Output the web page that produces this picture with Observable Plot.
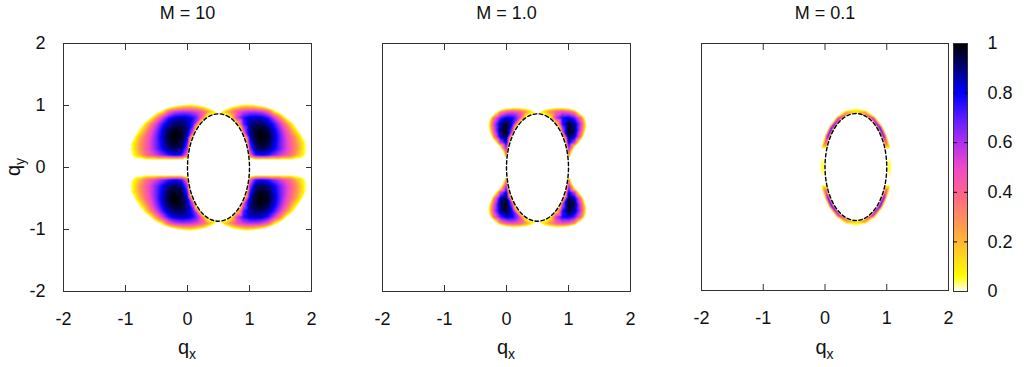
<!DOCTYPE html>
<html>
<head>
<meta charset="utf-8">
<script src="https://cdn.jsdelivr.net/npm/d3@7"></script>
<script src="https://cdn.jsdelivr.net/npm/@observablehq/plot@0.6"></script>
<style>
  body { margin: 0; background: #fff; }
  #fig { position: relative; width: 1027px; height: 367px; overflow: hidden; }
  #fig svg { position: absolute; top: 0; max-width: none; overflow: visible; }
</style>
</head>
<body>
<div id="fig"></div>
<script>
// Sampled gap magnitude on the quadrant qx >= 0.5, qy >= 0;
// the pattern is mirrored about qx = 0.5 and qy = 0.
const qxCols = [0.5, 0.6, 0.7, 0.8, 0.9, 1.0, 1.1, 1.2, 1.3, 1.4, 1.5, 1.6, 1.7, 1.8, 1.9];
const qyRows = [0.2, 0.3, 0.4, 0.5, 0.6, 0.7, 0.8, 0.9];

// M = 10: interior samples (0 = outside the lobe)
const m10Rows = [
  [0, 0, 0, 0, 0, 0.4, 0.75, 0.8, 0.75, 0.65, 0.55, 0.45, 0.32, 0.15, 0],
  [0, 0, 0, 0, 0, 0.6, 0.9, 0.93, 0.9, 0.8, 0.67, 0.53, 0.38, 0.22, 0.03],
  [0, 0, 0, 0, 0, 0.72, 0.95, 0.98, 0.95, 0.83, 0.68, 0.53, 0.37, 0.2, 0],
  [0, 0, 0, 0, 0, 0.82, 0.97, 1, 0.97, 0.85, 0.68, 0.5, 0.33, 0.14, 0],
  [0, 0, 0, 0, 0.5, 0.88, 0.97, 0.98, 0.94, 0.82, 0.64, 0.44, 0.2, 0, 0],
  [0, 0, 0, 0.08, 0.7, 0.87, 0.92, 0.92, 0.87, 0.74, 0.55, 0.3, 0.05, 0, 0],
  [0, 0, 0.08, 0.55, 0.75, 0.83, 0.85, 0.83, 0.75, 0.56, 0.3, 0, 0, 0, 0],
  [0, 0.15, 0.32, 0.48, 0.56, 0.6, 0.6, 0.56, 0.44, 0.1, 0, 0, 0, 0, 0]
];
// M = 10: outer edge of the upper-right lobe (gap falls to 0)
const m10EdgeQx = [0.5, 0.6, 0.72, 0.85, 0.94, 1.05, 1.15, 1.26, 1.4, 1.5, 1.58, 1.7, 1.795, 1.87, 1.92, 1.935, 1.92, 1.88, 1.82, 1.7, 1.5, 1.3, 1.1, 0.996];
const m10EdgeQy = [0.87, 0.935, 0.985, 1.01, 1.02, 1.015, 1.0, 0.98, 0.93, 0.88, 0.82, 0.72, 0.6, 0.48, 0.38, 0.3, 0.22, 0.17, 0.14, 0.128, 0.125, 0.125, 0.125, 0.125];

// M = 1.0
const m1Rows = [
  [0, 0, 0, 0, 0, 0.35, 0, 0, 0, 0, 0, 0, 0, 0, 0],
  [0, 0, 0, 0, 0, 0.65, 0, 0, 0, 0, 0, 0, 0, 0, 0],
  [0, 0, 0, 0, 0, 0.85, 0.55, 0, 0, 0, 0, 0, 0, 0, 0],
  [0, 0, 0, 0, 0, 0.97, 0.85, 0.35, 0, 0, 0, 0, 0, 0, 0],
  [0, 0, 0, 0, 0.55, 1, 0.92, 0.5, 0, 0, 0, 0, 0, 0, 0],
  [0, 0, 0, 0.05, 0.75, 0.97, 0.88, 0.55, 0, 0, 0, 0, 0, 0, 0],
  [0, 0, 0.05, 0.58, 0.78, 0.82, 0.7, 0.4, 0, 0, 0, 0, 0, 0, 0],
  [0, 0.12, 0.3, 0.44, 0.5, 0.45, 0.28, 0, 0, 0, 0, 0, 0, 0, 0]
];
const m1EdgeQx = [0.5, 0.6, 0.7, 0.79, 0.9, 1.0, 1.1, 1.19, 1.26, 1.285, 1.29, 1.27, 1.23, 1.17, 1.11, 1.06, 1.03, 1.012, 1.003];
const m1EdgeQy = [0.87, 0.93, 0.955, 0.965, 0.965, 0.955, 0.93, 0.87, 0.8, 0.74, 0.66, 0.575, 0.48, 0.4, 0.34, 0.26, 0.18, 0.08, 0];

// M = 0.1: thin crescent hugging the Fermi ellipse (scattered samples, same quadrant):
// crest of the crescent, then its outer edge
const m01Qx = [0.5, 0.646, 0.778, 0.889, 0.956, 0.984, 1.01, 1.027, 1.035,
               0.5, 0.667, 0.814, 0.932, 1.003, 1.032, 1.06, 1.08, 1.09];
const m01Qy = [0.906, 0.873, 0.778, 0.632, 0.486, 0.404, 0.27, 0.154, 0,
               0.956, 0.919, 0.814, 0.657, 0.504, 0.418, 0.29, 0.16, 0];
const m01V  = [0.12, 0.32, 0.65, 0.78, 0.75, 0.5, 0, 0, 0.06,
               0, 0, 0, 0, 0, 0, 0, 0, 0];

// Quarter of the dashed Fermi ellipse, from its top to its right-hand vertex
const ellipseQx = [0.5, 0.629, 0.75, 0.854, 0.933, 0.970, 0.992, 1.0];
const ellipseQy = [0.866, 0.837, 0.75, 0.612, 0.433, 0.296, 0.150, 0];

const titles = ["M = 10", "M = 1.0", "M = 0.1"];
const axisTicks = [-2, -1, 0, 1, 2];
const axisTickLabels = ["-2", "-1", "0", "1", "2"];
const innerTicks = [-1, 0, 1];
const colorTicks = [0, 0.2, 0.4, 0.6, 0.8, 1];
const colorTickLabels = ["0", "0.2", "0.4", "0.6", "0.8", "1"];
const innerColorTicks = [0.2, 0.4, 0.6, 0.8];

// white -> yellow -> orange -> pink -> purple -> blue -> black
const colorStops = [0, 0.06, 0.15, 0.25, 0.38, 0.5, 0.6, 0.7, 0.8, 0.9, 1];
const colorRange = ["#ffffff", "#ffff00", "#ffd020", "#ffa048", "#ff6a84", "#f048c8",
                    "#b030f0", "#5a1cff", "#0000ff", "#00007a", "#000000"];

// ---- helpers
function mirrored(x, y, v) {
  return [
    {qx: x, qy: y, v}, {qx: 1 - x, qy: y, v},
    {qx: x, qy: -y, v}, {qx: 1 - x, qy: -y, v}
  ];
}
function fromSamples(X, Y, V) {
  const out = [];
  X.forEach((x, i) => out.push(...mirrored(x, Y[i], typeof V === "number" ? V : V[i])));
  return out;
}
function fromGrid(rows) {
  const out = [];
  rows.forEach((row, j) => row.forEach((v, i) => {
    if (v > 0) out.push(...mirrored(qxCols[i], qyRows[j], v));
  }));
  return out;
}
const ellipseZeros = fromSamples(ellipseQx, ellipseQy, 0);

const quarter = ellipseQx.map((x, i) => [x, ellipseQy[i]]);
const ring = [
  ...quarter,
  ...quarter.slice(0, -1).reverse().map(([x, y]) => [x, -y]),
  ...quarter.slice(1).map(([x, y]) => [1 - x, -y]),
  ...quarter.slice(1, -1).reverse().map(([x, y]) => [1 - x, y])
].map(([qx, qy]) => ({qx, qy}));

const fontFamily = "'Liberation Sans', Arial, Helvetica, sans-serif";
const color = {type: "linear", domain: colorStops, range: colorRange, clamp: true};
const fmt = (d) => axisTickLabels[axisTicks.indexOf(d)];
const fig = document.getElementById("fig");

const panels = [
  {title: titles[0], left: 63, size: 248, yAxis: true,
   data: [...fromGrid(m10Rows), ...fromSamples(m10EdgeQx, m10EdgeQy, 0), ...ellipseZeros]},
  {title: titles[1], left: 382, size: 248, yAxis: false,
   data: [...fromGrid(m1Rows), ...fromSamples(m1EdgeQx, m1EdgeQy, 0), ...ellipseZeros]},
  {title: titles[2], left: 701, size: 247, yAxis: false,
   data: [...fromSamples(m01Qx, m01Qy, m01V), ...ellipseZeros]}
];
const svgLeft = [0, 346, 665];

panels.forEach((p, k) => {
  const mLeft = p.left - svgLeft[k];
  const mRight = 34;
  const marks = [
    Plot.raster(p.data, {x: "qx", y: "qy", fill: "v", interpolate: "barycentric",
                         x1: -2, x2: 2, y1: -2, y2: 2, pixelSize: 1}),
    Plot.line(ring, {x: "qx", y: "qy", curve: "catmull-rom-closed", fill: "white", stroke: "none"}),
    Plot.line(ring, {x: "qx", y: "qy", curve: "catmull-rom-closed", stroke: "#000",
                     strokeWidth: 1.4, strokeDasharray: "3.5,2.5"}),
    Plot.frame({stroke: "#333"}),
    Plot.axisX({anchor: "bottom", ticks: axisTicks, tickSize: 0, tickPadding: 21,
                tickFormat: fmt, label: null, fill: "#111"}),
    Plot.axisX({anchor: "bottom", ticks: innerTicks, tickSize: -6, fill: "none", stroke: "#333", label: null}),
    Plot.axisX({anchor: "top", ticks: innerTicks, tickSize: -6, fill: "none", stroke: "#333", label: null}),
    Plot.text([p.title], {frameAnchor: "top", lineAnchor: "bottom", dy: -25, fontSize: 18, fill: "#111"})
  ];
  if (p.yAxis) {
    marks.push(
      Plot.axisY({anchor: "left", ticks: axisTicks, tickSize: 0, tickPadding: 18,
                  tickFormat: fmt, label: null, fill: "#111"}),
      Plot.axisY({anchor: "left", ticks: innerTicks, tickSize: -6, fill: "none", stroke: "#333", label: null}),
      Plot.axisY({anchor: "right", ticks: innerTicks, tickSize: -6, fill: "none", stroke: "#333", label: null})
    );
  }
  const svg = Plot.plot({
    width: mLeft + p.size + mRight,
    height: 367,
    marginLeft: mLeft,
    marginRight: mRight,
    marginTop: 43,
    marginBottom: 367 - 43 - p.size,
    x: {domain: [-2, 2], label: null},
    y: {domain: [-2, 2], label: null, axis: p.yAxis ? undefined : null},
    color,
    style: {fontFamily, fontSize: "18px", color: "#111", background: "transparent"},
    marks
  });
  svg.style.left = svgLeft[k] + "px";
  fig.appendChild(svg);

  // axis titles with subscripts
  const s = d3.select(svg);
  const qx = s.append("text")
    .attr("x", mLeft + p.size / 2).attr("y", 353.5)
    .attr("text-anchor", "middle").attr("font-size", 20).attr("fill", "#111");
  qx.append("tspan").text("q");
  qx.append("tspan").attr("font-size", 14).attr("dy", 5).text("x");
  if (p.yAxis) {
    const qy = s.append("text")
      .attr("transform", "translate(20,167) rotate(-90)")
      .attr("text-anchor", "middle").attr("font-size", 20).attr("fill", "#111");
    qy.append("tspan").text("q");
    qy.append("tspan").attr("font-size", 14).attr("dy", 5).text("y");
  }
});

// ---- colour bar
const bar = Plot.plot({
  width: 76,
  height: 367,
  marginLeft: 2,
  marginRight: 60,
  marginTop: 43,
  marginBottom: 76,
  x: {domain: [0, 1], axis: null},
  y: {domain: [0, 1], label: null},
  color,
  style: {fontFamily, fontSize: "18px", color: "#111", background: "transparent"},
  marks: [
    Plot.raster({fill: (x, y) => y, x1: 0, x2: 1, y1: 0, y2: 1, pixelSize: 1}),
    Plot.frame({stroke: "#333"}),
    Plot.axisY({anchor: "right", ticks: colorTicks, tickSize: 0, tickPadding: 20,
                tickFormat: (d) => colorTickLabels[colorTicks.indexOf(d)], label: null, fill: "#111"}),
    Plot.axisY({anchor: "left", ticks: innerColorTicks, tickSize: -4, fill: "none", stroke: "#111", label: null}),
    Plot.axisY({anchor: "right", ticks: innerColorTicks, tickSize: -4, fill: "none", stroke: "#111", label: null})
  ]
});
bar.style.left = "951px";
fig.appendChild(bar);
</script>
</body>
</html>
